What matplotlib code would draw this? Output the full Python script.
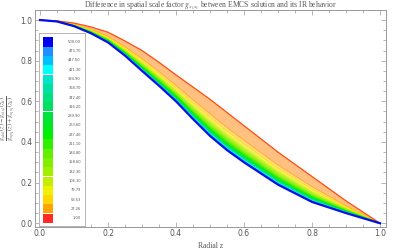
import matplotlib
matplotlib.use('Agg')
import matplotlib.pyplot as plt
import numpy as np
from matplotlib.ticker import MultipleLocator

plt.rcParams['mathtext.fontset'] = 'stix'

# radial coordinate
z = [0.0, 0.05, 0.1, 0.15, 0.2, 0.25, 0.3, 0.35, 0.4, 0.45, 0.5, 0.55, 0.6, 0.7, 0.8, 0.9, 1.0]

# parameter values shown in the legend (ascending)
niveles = [1.00, 27.26, 53.53, 79.79, 106.10, 132.30, 158.60, 184.80, 211.10, 237.40,
           263.60, 289.90, 316.20, 342.40, 368.70, 394.90, 421.30, 447.50, 473.70, 500.00]
etiquetas = ['1.00', '27.26', '53.53', '79.79', '106.10', '132.30', '158.60', '184.80',
             '211.10', '237.40', '263.60', '289.90', '316.20', '342.40', '368.70',
             '394.90', '421.30', '447.50', '473.70', '500.00']

# curves, one per level (same order)
curvas = [
    [1, .996, .985, .966, .940, .897, .850, .792, .730, .670, .610, .545, .480, .350, .230, .110, 0],
    [1, .995, .979, .954, .920, .868, .810, .746, .678, .607, .538, .471, .408, .286, .180, .086, 0],
    [1, .995, .978, .951, .915, .861, .800, .735, .665, .592, .520, .453, .390, .270, .168, .080, 0],
    [1, .995, .977, .949, .912, .857, .794, .728, .657, .582, .509, .441, .379, .260, .160, .076, 0],
    [1, .995, .976, .947, .909, .852, .788, .721, .649, .573, .498, .430, .368, .251, .153, .073, 0],
    [1, .994, .975, .945, .907, .849, .783, .715, .643, .565, .489, .421, .359, .243, .146, .070, 0],
    [1, .994, .974, .944, .905, .846, .779, .710, .638, .559, .482, .414, .352, .236, .141, .067, 0],
    [1, .994, .974, .943, .903, .843, .775, .706, .633, .552, .475, .406, .345, .230, .136, .065, 0],
    [1, .994, .973, .942, .901, .841, .772, .702, .629, .548, .470, .401, .340, .225, .133, .063, 0],
    [1, .994, .973, .941, .900, .839, .769, .699, .625, .543, .464, .395, .334, .220, .129, .061, 0],
    [1, .994, .972, .940, .898, .837, .766, .695, .621, .538, .459, .390, .329, .216, .125, .060, 0],
    [1, .994, .972, .939, .897, .835, .764, .693, .618, .535, .455, .386, .325, .212, .123, .058, 0],
    [1, .994, .972, .939, .896, .834, .762, .691, .616, .532, .452, .382, .322, .209, .120, .057, 0],
    [1, .994, .971, .938, .895, .832, .760, .689, .613, .529, .448, .379, .318, .206, .118, .056, 0],
    [1, .994, .971, .937, .894, .831, .758, .686, .610, .526, .444, .375, .314, .203, .115, .055, 0],
    [1, .993, .971, .937, .893, .830, .757, .684, .608, .523, .442, .372, .312, .200, .113, .054, 0],
    [1, .993, .971, .937, .892, .829, .755, .683, .606, .521, .439, .369, .309, .198, .111, .053, 0],
    [1, .993, .971, .936, .892, .828, .753, .681, .605, .518, .436, .366, .306, .196, .109, .052, 0],
    [1, .993, .970, .936, .891, .826, .752, .679, .603, .516, .434, .364, .304, .193, .108, .051, 0],
    [1, .993, .970, .935, .890, .825, .750, .677, .600, .513, .430, .360, .300, .190, .105, .050, 0],
]

colores = ['#FF2A22', '#FFA500', '#FFD700', '#F0F000', '#C0F000', '#A0F000', '#80F000',
           '#60F000', '#30F000', '#00F000', '#00E820', '#00E040', '#00E060', '#00E080',
           '#00E0A0', '#00E5CC', '#00FFFF', '#00BFFF', '#1E90FF', '#0000F0']
relleno = ['#FFC080', '#FFDC80', '#F8F07A', '#D8F060', '#B8F040', '#98F020', '#78F000',
           '#50F000', '#20F000', '#00F000', '#00E830', '#00E050', '#00E070', '#00E090',
           '#00E0B0', '#00EEDD', '#00E0FF', '#10A8FF', '#1060FF']

gris = '#999999'
texto = '#555555'

fig = plt.figure(figsize=(4.09, 2.49), dpi=100)
ax = fig.add_axes([35/409, 1 - 226.5/249, 351/409, 216/249])

# filled band between neighbouring curves
for i in range(len(curvas) - 1):
    ax.fill_between(z, curvas[i], curvas[i + 1], color=relleno[i], lw=0, zorder=1)
for i in range(1, len(curvas) - 1):
    ax.plot(z, curvas[i], color=colores[i], lw=0.5, zorder=2)
ax.plot(z, curvas[0], color='#FF4A10', lw=0.9, zorder=3)
ax.plot(z, curvas[-1], color='#0010E8', lw=1.6, zorder=3)

ax.set_xlim(-0.0147, 1.0176)
ax.set_ylim(-0.016, 1.047)
ax.xaxis.set_major_locator(MultipleLocator(0.2))
ax.xaxis.set_minor_locator(MultipleLocator(0.05))
ax.yaxis.set_major_locator(MultipleLocator(0.2))
ax.yaxis.set_minor_locator(MultipleLocator(0.05))
ax.xaxis.set_major_formatter(plt.FuncFormatter(lambda v, p: f'{v:.1f}'))
ax.yaxis.set_major_formatter(plt.FuncFormatter(lambda v, p: f'{v:.1f}'))
ax.tick_params(which='both', direction='in', top=True, right=True, color=gris,
               width=0.5, labelsize=5.5, labelcolor=texto, pad=2)
ax.tick_params(which='major', length=3.5)
ax.tick_params(which='minor', length=2)
for s in ax.spines.values():
    s.set_color(gris)
    s.set_linewidth(0.7)

fig.text(0.5 * (35 + 386) / 409, 1 - 5.5 / 249,
         r'Difference in spatial scale factor $g_{x_1x_1}$ between EMCS solution and its IR behavior',
         fontsize=5.5, color=texto, family='Liberation Serif', ha='center', va='center')
ax.set_xlabel('Radial z', fontsize=5.5, color=texto, family='Liberation Serif', labelpad=3)
ax.set_ylabel(r'$\frac{g_{x_1x_1}(z)-g_{x_1x_1}(z_h)}{g_{x_1x_1}(z)+g_{x_1x_1}(z_h)}$',
              fontsize=6.5, color=texto)
ax.yaxis.set_label_coords(-0.05, 0.5)

# legend box with colour swatches
leg = fig.add_axes([39/409, 1 - 226/249, 46/409, 193/249])
leg.set_xlim(0, 1)
leg.set_ylim(0, 1)
leg.set_xticks([])
leg.set_yticks([])
for s in leg.spines.values():
    s.set_color('#AAAAAA')
    s.set_linewidth(0.6)
alto = (0.978 - 0.017) / len(niveles)
for i, (c, t) in enumerate(zip(colores, etiquetas)):
    y0 = 0.017 + i * alto
    leg.bar(0.08, alto * 0.98, width=0.22, bottom=y0, align='edge', color=c, lw=0)
    leg.text(0.91, y0 + alto / 2, t, ha='right', va='center', fontsize=2.6, color=texto)

fig.savefig('out.png', dpi=100)
